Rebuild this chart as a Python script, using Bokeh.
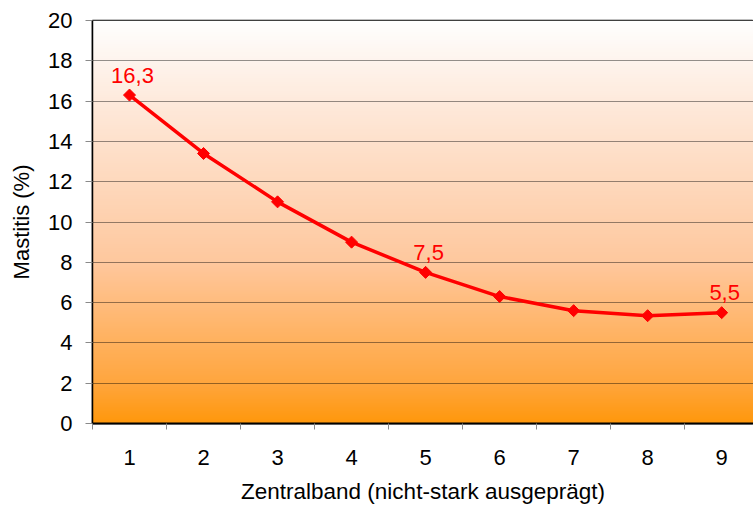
import numpy as np
from bokeh.plotting import figure
from bokeh.models import Range1d, FixedTicker, ColumnDataSource
from bokeh.embed import file_html
from bokeh.resources import INLINE
from bokeh.core.properties import value

# ---- data ----
categories = [1, 2, 3, 4, 5, 6, 7, 8, 9]
mastitis = [16.3, 13.4, 11.0, 9.0, 7.5, 6.3, 5.6, 5.35, 5.5]
label_idx = [0, 4, 8]
y_ticks = [0, 2, 4, 6, 8, 10, 12, 14, 16, 18, 20]
x_label = "Zentralband (nicht-stark ausgeprägt)"
y_label = "Mastitis (%)"

FONT = "Liberation Sans"
X0, X1 = 0.5, 9.43

p = figure(width=753, height=506, output_backend="svg", toolbar_location=None,
           x_range=Range1d(X0, X1), y_range=Range1d(0, 20),
           min_border_left=92, min_border_right=0, min_border_top=20, min_border_bottom=83)
p.background_fill_color = "white"
p.border_fill_color = "white"
p.outline_line_color = "black"
p.outline_line_width = 1.5

# gradient background (white -> orange), style stops
stops_t = [0.0, 0.2, 0.6, 0.9, 1.0]          # 0 = top, 1 = bottom
stops_c = [(255, 255, 255), (254, 234, 220), (255, 200, 158), (255, 166, 62), (255, 152, 12)]
N = 200
t = np.linspace(1.0, 0.0, N)  # row 0 is bottom
img = np.empty((N, 1), dtype=np.uint32)
view = img.view(dtype=np.uint8).reshape((N, 1, 4))
for ch in range(3):
    view[:, 0, ch] = np.interp(t, stops_t, [c[ch] for c in stops_c]).astype(np.uint8)
view[:, 0, 3] = 255
p.image_rgba(image=[img], x=X0, y=0, dw=X1 - X0, dh=20, level="image")

# grid
p.xgrid.visible = False
p.ygrid.ticker = FixedTicker(ticks=y_ticks)
p.ygrid.grid_line_color = "black"
p.ygrid.grid_line_alpha = 0.42
p.ygrid.grid_line_width = 1
p.ygrid.level = "underlay"

# x axis
xa = p.xaxis[0]
xa.ticker = FixedTicker(ticks=categories, minor_ticks=[c - 0.5 for c in categories] + [categories[-1] + 0.5])
xa.major_tick_line_color = None
xa.major_tick_out = 0
xa.major_tick_in = 0
xa.minor_tick_line_color = "#8a8a8a"
xa.minor_tick_out = 6
xa.minor_tick_in = 0
xa.axis_line_color = "black"
xa.axis_line_width = 2
xa.major_label_standoff = 20
xa.major_label_text_font = FONT
xa.major_label_text_font_size = "22px"
xa.major_label_text_color = "black"
xa.axis_label = x_label
xa.axis_label_text_font = FONT
xa.axis_label_text_font_size = "22.5px"
xa.axis_label_text_font_style = "normal"
xa.axis_label_text_color = "black"
xa.axis_label_standoff = 11

# y axis
ya = p.yaxis[0]
ya.ticker = FixedTicker(ticks=y_ticks)
ya.minor_tick_line_color = None
ya.major_tick_line_color = "#8a8a8a"
ya.major_tick_out = 7
ya.major_tick_in = 0
ya.axis_line_color = "black"
ya.axis_line_width = 1.5
ya.major_label_standoff = 13
ya.major_label_text_font = FONT
ya.major_label_text_font_size = "22px"
ya.major_label_text_color = "black"
ya.axis_label = y_label
ya.axis_label_text_font = FONT
ya.axis_label_text_font_size = "22px"
ya.axis_label_text_font_style = "normal"
ya.axis_label_text_color = "black"
ya.axis_label_standoff = 11

# series
src = ColumnDataSource(dict(x=categories, y=mastitis))
p.line("x", "y", source=src, line_color="#ff0000", line_width=3.5, line_join="round")
p.scatter("x", "y", source=src, marker="square", angle=np.pi / 4, size=8.5,
          fill_color="#ff0000", line_color="#ff0000", line_width=1)

lab = ColumnDataSource(dict(
    x=[categories[i] for i in label_idx],
    y=[mastitis[i] for i in label_idx],
    t=[f"{mastitis[i]:.1f}".replace(".", ",") for i in label_idx],
))
p.text("x", "y", text="t", source=lab, text_font=value(FONT), text_font_size="22px",
       text_color="#ff0000", text_align="center", text_baseline="alphabetic",
       x_offset=3, y_offset=-20)

open("out.html", "w").write(file_html(p, INLINE))
